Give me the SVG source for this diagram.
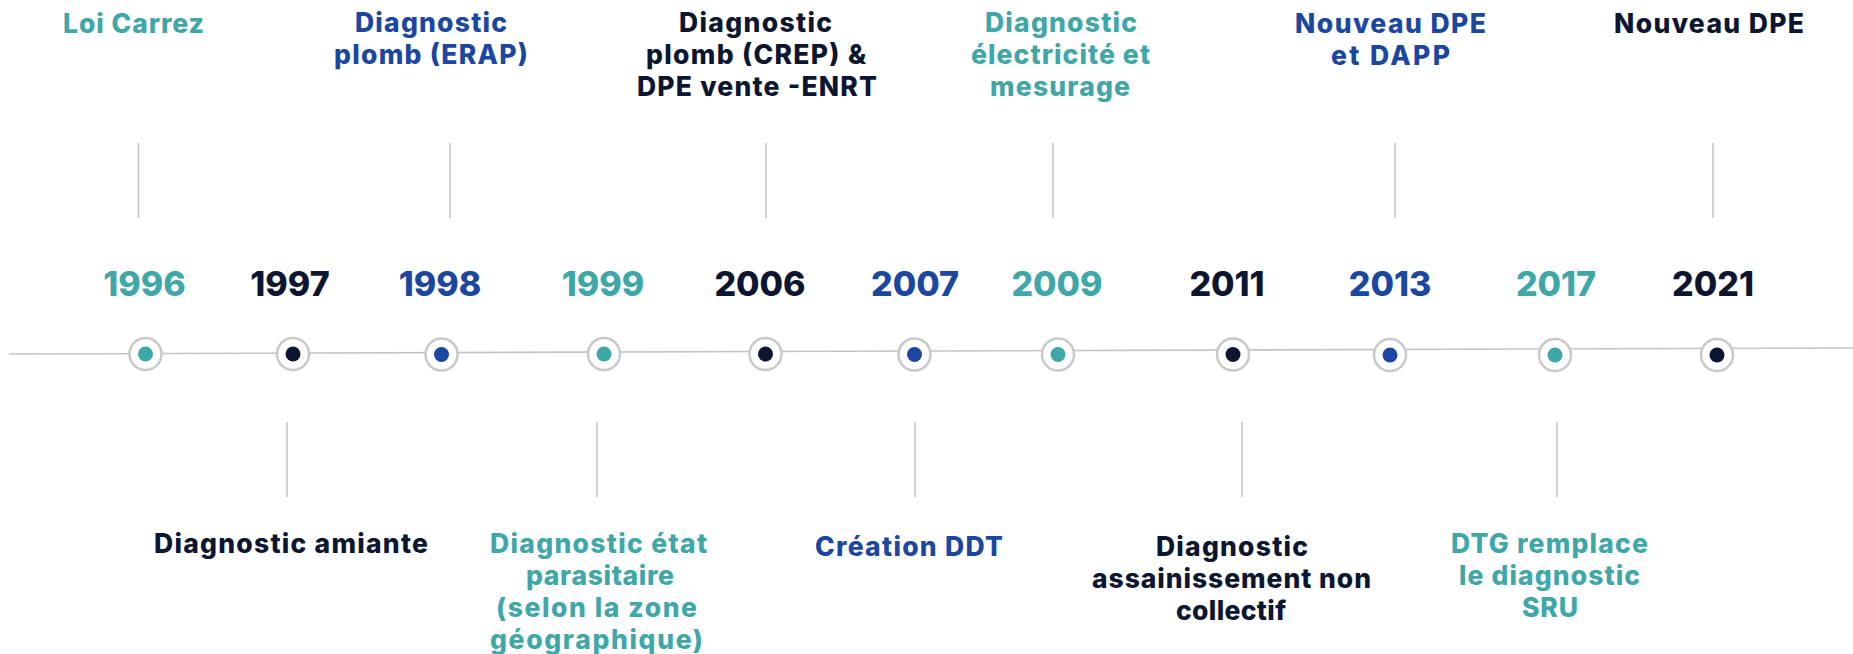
<svg xmlns="http://www.w3.org/2000/svg" width="1853" height="654" viewBox="0 0 1853 654">
<style>
text{font-family:Inter,"Noto Sans","Liberation Sans",sans-serif;font-weight:800;text-anchor:middle}
.lbl{font-size:26.5px}
.yr{font-size:34px}
.teal{fill:#3fa7a8}
.navy{fill:#0c1631}
.blue{fill:#1b47a1}
.tick{stroke:#c6c6c6;stroke-width:1.6}
.ring{fill:#fff;stroke:#c9c9c9;stroke-width:2.5}
</style>
<rect width="1853" height="654" fill="#fff"/>
<g id="connectors">
<line x1="9" y1="354" x2="1853" y2="348" stroke="#c4c4c4" stroke-width="1.6"/>
<line class="tick" x1="138.5" y1="143" x2="138.5" y2="218"/>
<line class="tick" x1="450" y1="143" x2="450" y2="218"/>
<line class="tick" x1="766" y1="143" x2="766" y2="218"/>
<line class="tick" x1="1053" y1="143" x2="1053" y2="218"/>
<line class="tick" x1="1395" y1="143" x2="1395" y2="218"/>
<line class="tick" x1="1713" y1="143" x2="1713" y2="218"/>
<line class="tick" x1="287" y1="422" x2="287" y2="497"/>
<line class="tick" x1="597" y1="422" x2="597" y2="497"/>
<line class="tick" x1="915" y1="422" x2="915" y2="497"/>
<line class="tick" x1="1242" y1="422" x2="1242" y2="497"/>
<line class="tick" x1="1557" y1="422" x2="1557" y2="497"/>
</g>
<g id="n1996">
<text class="lbl teal" x="133.5" y="33" textLength="141" lengthAdjust="spacing">Loi Carrez</text>
<text class="yr teal" x="144.5" y="296">1996</text>
<circle class="ring" cx="145.5" cy="354" r="16"/><circle class="teal" cx="145.5" cy="354" r="7.5"/>
</g>
<g id="n1997">
<text class="yr navy" x="290" y="296">1997</text>
<circle class="ring" cx="293" cy="354" r="16"/><circle class="navy" cx="293" cy="354" r="7.5"/>
<text class="lbl navy" x="291" y="553" textLength="274" lengthAdjust="spacing">Diagnostic amiante</text>
</g>
<g id="n1998">
<text class="lbl blue" x="431" y="32" textLength="152" lengthAdjust="spacing">Diagnostic</text>
<text class="lbl blue" x="431" y="64" textLength="194" lengthAdjust="spacing">plomb (ERAP)</text>
<text class="yr blue" x="440" y="296">1998</text>
<circle class="ring" cx="441.5" cy="354.5" r="16"/><circle class="blue" cx="441.5" cy="354.5" r="7.5"/>
</g>
<g id="n1999">
<text class="yr teal" x="603" y="296">1999</text>
<circle class="ring" cx="604" cy="354" r="16"/><circle class="teal" cx="604" cy="354" r="7.5"/>
<text class="lbl teal" x="598.5" y="553" textLength="217" lengthAdjust="spacing">Diagnostic état</text>
<text class="lbl teal" x="600" y="585" textLength="148" lengthAdjust="spacing">parasitaire</text>
<text class="lbl teal" x="596.5" y="617" textLength="201" lengthAdjust="spacing">(selon la zone</text>
<text class="lbl teal" x="596.5" y="649" textLength="213" lengthAdjust="spacing">géographique)</text>
</g>
<g id="n2006">
<text class="lbl navy" x="755.5" y="32" textLength="153" lengthAdjust="spacing">Diagnostic</text>
<text class="lbl navy" x="756" y="64" textLength="220" lengthAdjust="spacing">plomb (CREP) &amp;</text>
<text class="lbl navy" x="757" y="96" textLength="240" lengthAdjust="spacing">DPE vente -ENRT</text>
<text class="yr navy" x="760" y="296">2006</text>
<circle class="ring" cx="765.5" cy="354" r="16"/><circle class="navy" cx="765.5" cy="354" r="7.5"/>
</g>
<g id="n2007">
<text class="yr blue" x="915" y="296">2007</text>
<circle class="ring" cx="914.5" cy="354.5" r="16"/><circle class="blue" cx="914.5" cy="354.5" r="7.5"/>
<text class="lbl blue" x="909" y="556" textLength="188" lengthAdjust="spacing">Création DDT</text>
</g>
<g id="n2009">
<text class="lbl teal" x="1061" y="32" textLength="152" lengthAdjust="spacing">Diagnostic</text>
<text class="lbl teal" x="1060.5" y="64" textLength="179" lengthAdjust="spacing">électricité et</text>
<text class="lbl teal" x="1060" y="96" textLength="140" lengthAdjust="spacing">mesurage</text>
<text class="yr teal" x="1057" y="296">2009</text>
<circle class="ring" cx="1058" cy="354.5" r="16"/><circle class="teal" cx="1058" cy="354.5" r="7.5"/>
</g>
<g id="n2011">
<text class="yr navy" x="1227" y="296">2011</text>
<circle class="ring" cx="1233" cy="354.5" r="16"/><circle class="navy" cx="1233" cy="354.5" r="7.5"/>
<text class="lbl navy" x="1232" y="556" textLength="152" lengthAdjust="spacing">Diagnostic</text>
<text class="lbl navy" x="1231.5" y="588" textLength="279" lengthAdjust="spacing">assainissement non</text>
<text class="lbl navy" x="1231" y="620" textLength="110" lengthAdjust="spacing">collectif</text>
</g>
<g id="n2013">
<text class="lbl blue" x="1390.5" y="33" textLength="191" lengthAdjust="spacing">Nouveau DPE</text>
<text class="lbl blue" x="1390.5" y="65" textLength="119" lengthAdjust="spacing">et DAPP</text>
<text class="yr blue" x="1390" y="296">2013</text>
<circle class="ring" cx="1390" cy="355" r="16"/><circle class="blue" cx="1390" cy="355" r="7.5"/>
</g>
<g id="n2017">
<text class="yr teal" x="1556" y="296">2017</text>
<circle class="ring" cx="1555" cy="355" r="16"/><circle class="teal" cx="1555" cy="355" r="7.5"/>
<text class="lbl teal" x="1549.5" y="553" textLength="197" lengthAdjust="spacing">DTG remplace</text>
<text class="lbl teal" x="1549.5" y="585" textLength="181" lengthAdjust="spacing">le diagnostic</text>
<text class="lbl teal" x="1550" y="617" textLength="56" lengthAdjust="spacing">SRU</text>
</g>
<g id="n2021">
<text class="lbl navy" x="1709" y="33" textLength="190" lengthAdjust="spacing">Nouveau DPE</text>
<text class="yr navy" x="1713" y="296">2021</text>
<circle class="ring" cx="1717" cy="355" r="16"/><circle class="navy" cx="1717" cy="355" r="7.5"/>
</g>
</svg>
